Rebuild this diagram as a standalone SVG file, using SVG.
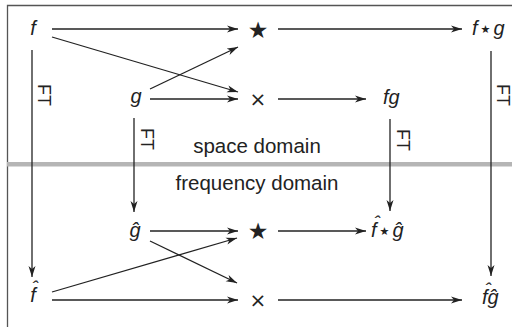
<svg xmlns="http://www.w3.org/2000/svg" width="512" height="327" viewBox="0 0 512 327">
<style>
.m{font-family:"Liberation Sans",Arial,sans-serif;font-style:italic;font-size:20px;fill:#222}
.h{font-family:"Liberation Sans",Arial,sans-serif;font-style:italic;font-size:18px;fill:#222}
.t{font-family:"Liberation Sans",Arial,sans-serif;font-size:20.5px;fill:#222}
.ft{font-family:"Liberation Sans",Arial,sans-serif;font-size:18px;fill:#222}
.op{font-family:"DejaVu Sans",sans-serif;fill:#222}
.c line{stroke:#222;stroke-width:1.3;marker-end:url(#ah)}
</style>
<defs>
<marker id="ah" markerUnits="userSpaceOnUse" markerWidth="12" markerHeight="8" refX="11" refY="4" orient="auto">
<path d="M0,0.5 L11,4 L0,7.5 L3,4 z" fill="#222"/>
</marker>
</defs>
<rect width="512" height="327" fill="#fff"/>
<path d="M7.5,340 V5.5 H520" fill="none" stroke="#555" stroke-width="1.3"/>
<rect x="7" y="162" width="510" height="4.5" fill="#b5b5b5"/>
<g id="labels">
<text class="t" x="257" y="153" text-anchor="middle">space domain</text>
<text class="t" x="257" y="190" text-anchor="middle">frequency domain</text>
</g>
<g class="c" id="connectors">
<line x1="52" y1="29" x2="238" y2="29"/>
<line x1="52" y1="37" x2="238" y2="92"/>
<line x1="150" y1="89" x2="238" y2="47"/>
<line x1="150" y1="99" x2="238" y2="99"/>
<line x1="278" y1="29" x2="462" y2="29"/>
<line x1="278" y1="99" x2="366" y2="99"/>
<line x1="32" y1="50" x2="32" y2="277"/>
<line x1="134" y1="118" x2="134" y2="212"/>
<line x1="390" y1="119" x2="390" y2="211"/>
<line x1="491" y1="51" x2="491" y2="276"/>
<line x1="150" y1="231" x2="238" y2="231"/>
<line x1="150" y1="241" x2="237" y2="283"/>
<line x1="52" y1="292" x2="237" y2="238"/>
<line x1="52" y1="300" x2="238" y2="300"/>
<line x1="278" y1="231" x2="366" y2="231"/>
<line x1="278" y1="300" x2="462" y2="300"/>
</g>
<g id="ft-labels">
<text class="ft" transform="translate(38,84) rotate(90)">FT</text>
<text class="ft" transform="translate(141,128) rotate(90)">FT</text>
<text class="ft" transform="translate(397,129) rotate(90)">FT</text>
<text class="ft" transform="translate(497,84) rotate(90)">FT</text>
</g>
<g id="n-f"><text class="m" x="33" y="35" text-anchor="middle">f</text></g>
<g id="n-g"><text class="m" x="136" y="103" text-anchor="middle">g</text></g>
<g id="n-star1"><text class="op" x="258" y="38" font-size="23" text-anchor="middle">★</text></g>
<g id="n-times1"><text class="op" x="258" y="106" font-size="20" text-anchor="middle">×</text></g>
<g id="n-fconvg"><text class="m" x="472" y="35">f<tspan class="op" font-style="normal" font-size="11" dx="3" dy="-2">★</tspan><tspan dx="3" dy="2">g</tspan></text></g>
<g id="n-fg"><text class="m" x="383" y="104">fg</text></g>
<g id="n-ghat"><text class="m" x="135" y="237" text-anchor="middle">ĝ</text></g>
<g id="n-fhat"><text class="m" x="33" y="302" text-anchor="middle">f</text><text class="h" x="35" y="294" text-anchor="middle">ˆ</text></g>
<g id="n-star2"><text class="op" x="258" y="239" font-size="23" text-anchor="middle">★</text></g>
<g id="n-times2"><text class="op" x="258" y="307" font-size="20" text-anchor="middle">×</text></g>
<g id="n-fhatconvghat"><text class="m" x="371" y="237">f<tspan class="op" font-style="normal" font-size="11" dx="3" dy="-2">★</tspan><tspan dx="3" dy="2">ĝ</tspan></text><text class="h" x="377" y="229" text-anchor="middle">ˆ</text></g>
<g id="n-fhatghat"><text class="m" x="482" y="304">fĝ</text><text class="h" x="488" y="296" text-anchor="middle">ˆ</text></g>
</svg>
